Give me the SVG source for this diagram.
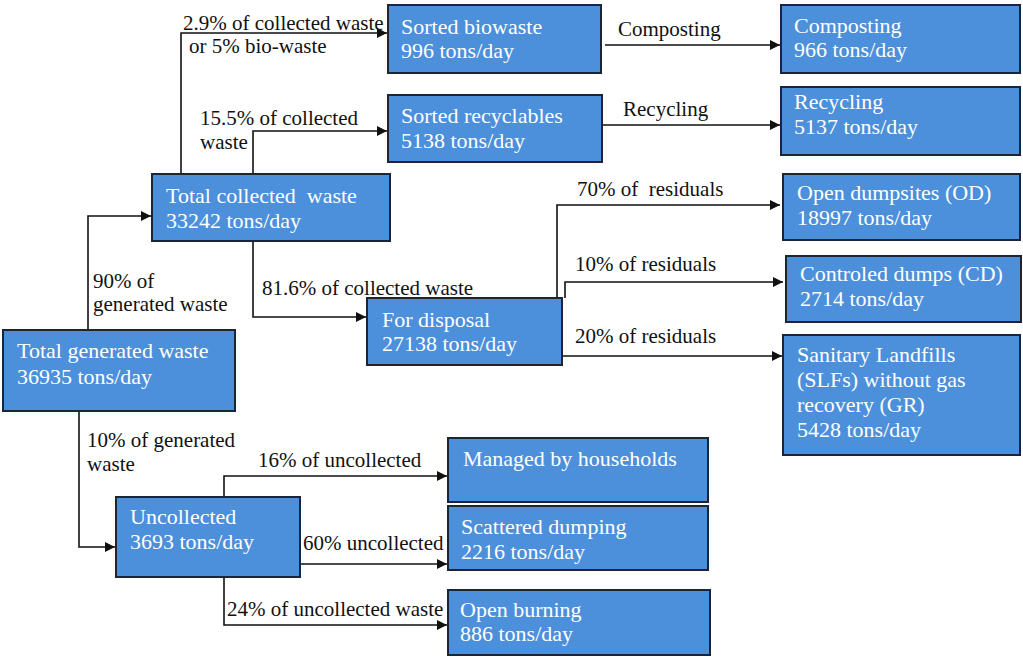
<svg xmlns="http://www.w3.org/2000/svg" width="1023" height="657" viewBox="0 0 1023 657">
  <style>
    .box { fill: #4c8fda; stroke: #1c2538; stroke-width: 2; }
    .bt { font-family: "Liberation Serif", "Times New Roman", serif; font-size: 22px; fill: #ffffff; white-space: pre; }
    .lbl { font-family: "Liberation Serif", "Times New Roman", serif; font-size: 21px; fill: #111111; white-space: pre; }
    .ln { fill: none; stroke: #111111; stroke-width: 1.6; marker-end: url(#arr); }
  </style>
  <defs>
    <marker id="arr" viewBox="0 0 10 10" refX="10" refY="5" markerWidth="11" markerHeight="10" markerUnits="userSpaceOnUse" orient="auto">
      <path d="M0,0 L10,5 L0,10 z" fill="#111111"/>
    </marker>
  </defs>
  <rect width="1023" height="657" fill="#ffffff"/>

  <!-- connectors -->
  <g id="connectors">
    <path class="ln" d="M88,330 V216 H151"/>
    <path class="ln" d="M181,174 V33 H387"/>
    <path class="ln" d="M253,174 V131 H387"/>
    <path class="ln" d="M605,45 H780"/>
    <path class="ln" d="M602,125 H780"/>
    <path class="ln" d="M253,241 V317 H366"/>
    <path class="ln" d="M557,298 V205 H780"/>
    <path class="ln" d="M565,298 V282 H783"/>
    <path class="ln" d="M562,356 H782"/>
    <path class="ln" d="M79,411 V547 H115"/>
    <path class="ln" d="M224,497 V476 H447"/>
    <path class="ln" d="M300,564 H447"/>
    <path class="ln" d="M224,577 V625 H447"/>

    <text class="lbl" x="183" y="30">2.9% of collected waste</text>
    <text class="lbl" x="189" y="53">or 5% bio-waste</text>
    <text class="lbl" x="200" y="125">15.5% of collected</text>
    <text class="lbl" x="200" y="149">waste</text>
    <text class="lbl" x="618" y="36">Composting</text>
    <text class="lbl" x="623" y="116">Recycling</text>
    <text class="lbl" x="93" y="288">90% of</text>
    <text class="lbl" x="93" y="311">generated waste</text>
    <text class="lbl" x="262" y="295">81.6% of collected waste</text>
    <text class="lbl" x="577" y="196">70% of  residuals</text>
    <text class="lbl" x="575" y="271">10% of residuals</text>
    <text class="lbl" x="575" y="343">20% of residuals</text>
    <text class="lbl" x="87" y="447">10% of generated</text>
    <text class="lbl" x="87" y="471">waste</text>
    <text class="lbl" x="258" y="467">16% of uncollected</text>
    <text class="lbl" x="303" y="550">60% uncollected</text>
    <text class="lbl" x="227" y="616">24% of uncollected waste</text>
  </g>

  <!-- nodes -->
  <g id="sorted-biowaste">
    <rect class="box" x="388" y="5" width="213" height="68"/>
    <text class="bt" x="401" y="34">Sorted biowaste</text>
    <text class="bt" x="401" y="58">996 tons/day</text>
  </g>
  <g id="composting">
    <rect class="box" x="781" y="5" width="239" height="68"/>
    <text class="bt" x="794" y="33">Composting</text>
    <text class="bt" x="794" y="57">966 tons/day</text>
  </g>
  <g id="sorted-recyclables">
    <rect class="box" x="388" y="95" width="214" height="67"/>
    <text class="bt" x="401" y="123">Sorted recyclables</text>
    <text class="bt" x="401" y="148">5138 tons/day</text>
  </g>
  <g id="recycling">
    <rect class="box" x="781" y="87" width="239" height="68"/>
    <text class="bt" x="794" y="109">Recycling</text>
    <text class="bt" x="794" y="134">5137 tons/day</text>
  </g>
  <g id="total-collected">
    <rect class="box" x="152" y="174" width="238" height="67"/>
    <text class="bt" x="166" y="203">Total collected  waste</text>
    <text class="bt" x="166" y="228">33242 tons/day</text>
  </g>
  <g id="open-dumpsites">
    <rect class="box" x="783" y="174" width="237" height="66"/>
    <text class="bt" x="797" y="200">Open dumpsites (OD)</text>
    <text class="bt" x="797" y="225">18997 tons/day</text>
  </g>
  <g id="controlled-dumps">
    <rect class="box" x="786" y="256" width="235" height="66"/>
    <text class="bt" x="800" y="281">Controled dumps (CD)</text>
    <text class="bt" x="800" y="306">2714 tons/day</text>
  </g>
  <g id="for-disposal">
    <rect class="box" x="367" y="298" width="195" height="67"/>
    <text class="bt" x="382" y="327">For disposal</text>
    <text class="bt" x="382" y="351">27138 tons/day</text>
  </g>
  <g id="sanitary-landfills">
    <rect class="box" x="783" y="335" width="237" height="120"/>
    <text class="bt" x="797" y="362">Sanitary Landfills</text>
    <text class="bt" x="797" y="387">(SLFs) without gas</text>
    <text class="bt" x="797" y="412">recovery (GR)</text>
    <text class="bt" x="797" y="437">5428 tons/day</text>
  </g>
  <g id="total-generated">
    <rect class="box" x="3" y="330" width="232" height="81"/>
    <text class="bt" x="17" y="358">Total generated waste</text>
    <text class="bt" x="17" y="384">36935 tons/day</text>
  </g>
  <g id="managed-households">
    <rect class="box" x="448" y="438" width="260" height="64"/>
    <text class="bt" x="463" y="466">Managed by households</text>
  </g>
  <g id="scattered-dumping">
    <rect class="box" x="448" y="506" width="260" height="64"/>
    <text class="bt" x="461" y="534">Scattered dumping</text>
    <text class="bt" x="461" y="559">2216 tons/day</text>
  </g>
  <g id="uncollected">
    <rect class="box" x="116" y="497" width="184" height="80"/>
    <text class="bt" x="130" y="524">Uncollected</text>
    <text class="bt" x="130" y="549">3693 tons/day</text>
  </g>
  <g id="open-burning">
    <rect class="box" x="448" y="590" width="262" height="65"/>
    <text class="bt" x="460" y="617">Open burning</text>
    <text class="bt" x="460" y="641">886 tons/day</text>
  </g>
</svg>
